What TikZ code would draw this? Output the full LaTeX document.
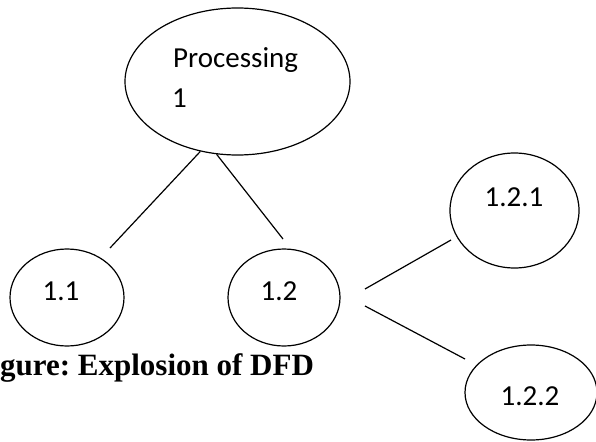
\documentclass[tikz,border=0pt]{standalone}
\usepackage{fontspec}
\setmainfont{Carlito}
\newfontfamily\capfont{Liberation Serif}
\usetikzlibrary{shapes.geometric}
\frenchspacing
\tikzset{
  proc/.style={draw, ellipse, line width=1.2pt, inner sep=0pt},
  lbl/.style={font=\fontsize{29}{34}\selectfont, inner sep=0pt},
  link/.style={line width=1.2pt},
}
\begin{document}
\begin{tikzpicture}[x=1pt,y=-1pt]
\useasboundingbox (0,0) rectangle (596,441);
% ellipses
\node[proc, minimum width=225pt, minimum height=147pt] (p1) at (237.5,81.5) {};
\node[proc, minimum width=114pt, minimum height=97pt] (p11) at (67,297.5) {};
\node[proc, minimum width=112pt, minimum height=97pt] (p12) at (284,297.5) {};
\node[proc, minimum width=129pt, minimum height=115pt] (p121) at (514.5,210.5) {};
\node[proc, minimum width=132pt, minimum height=95pt] (p122) at (531,392.5) {};
% labels
\node[lbl, anchor=base west] (t1a) at (173,68) {Processing};
\node[lbl, anchor=base west] (t1b) at (172,107) {1};
\node[lbl, anchor=base] (t11) at (61,300) {1.1};
\node[lbl, anchor=base] (t12) at (279,300) {1.2};
\node[lbl, anchor=base] (t121) at (514,206) {1.2.1};
\node[lbl, anchor=base] (t122) at (530,405) {1.2.2};
% connector free ends
\coordinate (e11) at (110,248);
\coordinate (e12) at (283,239);
\coordinate (s121) at (365,289);
\coordinate (e121) at (451,240);
\coordinate (s122) at (365,306);
\coordinate (e122) at (465,359);
\draw[link] (p1.242) -- (e11);
\draw[link] (p1.254) -- (e12);
\draw[link] (s121) -- (e121);
\draw[link] (s122) -- (e122);
% caption
\node[font=\capfont\bfseries\fontsize{31}{36}\selectfont, anchor=base west, inner sep=0pt] (cap) at (0,375) {gure: Explosion of DFD};
\end{tikzpicture}
\end{document}
